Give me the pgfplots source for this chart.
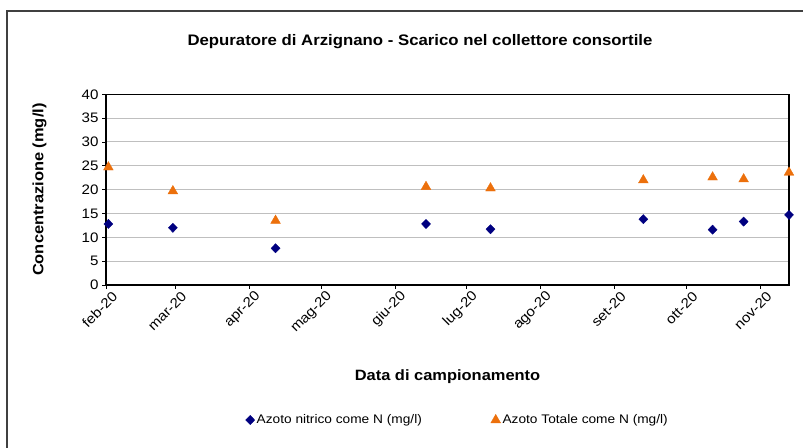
\documentclass[border=0pt]{standalone}
\usepackage{pgfplots}
\pgfplotsset{compat=1.18}
\usepackage{fontspec}
\setmainfont{Liberation Sans}[FakeStretch=1.1]
\definecolor{navyc}{RGB}{0,0,128}
\definecolor{orangec}{RGB}{236,112,12}
\pgfplotstableread{
day val
1 12.8
28 12.0
71 7.7
134 12.8
161 11.7
225 13.8
254 11.6
267 13.3
286 14.7
}\nitrico
\pgfplotstableread{
day val
1 24.7
28 19.7
71 13.5
134 20.6
161 20.3
225 22.0
254 22.6
267 22.2
286 23.6
}\totale
\begin{document}
\begin{tikzpicture}[x=1bp,y=1bp]
\useasboundingbox (0,0) rectangle (803,448);
\draw[line width=1.3bp, black!75] (7,-2) -- (7,437) -- (805,437);
\node[font=\bfseries\fontsize{15.3}{18}\selectfont] at (420,406) {Depuratore di Arzignano - Scarico nel collettore consortile};
\begin{axis}[
  at={(106bp,163bp)}, anchor=south west, scale only axis,
  width=683bp, height=190.7bp,
  xmin=0, xmax=286, ymin=0, ymax=40,
  ytick={0,5,...,40},
  xtick={0,29,60,90,121,151,182,213,243,274},
  xticklabels={feb-20,mar-20,apr-20,mag-20,giu-20,lug-20,ago-20,set-20,ott-20,nov-20},
  tick align=outside, major tick length=4bp,
  xtick pos=bottom, ytick pos=left,
  axis line style={line width=1.2bp, black},
  tick style={black, line width=0.8bp},
  ymajorgrids, grid style={line width=1bp, black!25},
  /pgf/number format/assume math mode=true,
  ticklabel style={font=\fontsize{13.8}{16}\selectfont},
  xticklabel style={rotate=45, anchor=east, xshift=6bp, yshift=-10bp},
  xlabel={Data di campionamento},
  ylabel={Concentrazione (mg/l)},
  label style={font=\bfseries\fontsize{15}{18}\selectfont},
  xlabel style={at={(axis description cs:0.5,-0.478)}, anchor=center},
  ylabel style={at={(axis description cs:-0.0973,0.5)}, anchor=center},
  legend style={at={(0.515,-0.708)}, anchor=center, draw=none, fill=none,
    font=\fontsize{12.5}{15}\selectfont, legend columns=2,
    /tikz/every even column/.append style={column sep=67bp}},
  clip=false,
]
\addplot[only marks, mark=diamond*, mark size=4.6bp, mark options={xscale=1.3}, color=navyc] table[x=day,y=val] {\nitrico};
\addlegendentry{Azoto nitrico come N (mg/l)}
\addplot[only marks, mark=triangle*, mark size=5.6bp, color=orangec] table[x=day,y=val] {\totale};
\addlegendentry{Azoto Totale come N (mg/l)}
\end{axis}
\end{tikzpicture}
\end{document}
